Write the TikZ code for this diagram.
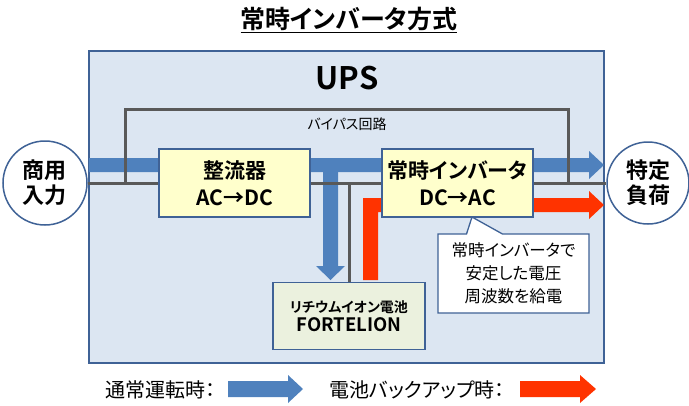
\documentclass[tikz,border=0pt]{standalone}
\usepackage{fontspec}
\setmainfont{Noto Sans CJK JP}[RawFeature=+palt,BoldFont={Noto Sans CJK JP Bold}]
\usetikzlibrary{shapes.callouts}
\definecolor{upsfill}{HTML}{DCE6F2}
\definecolor{navy}{HTML}{3F6296}
\definecolor{flowblue}{HTML}{4F81BD}
\definecolor{flowred}{HTML}{FF3300}
\definecolor{wire}{HTML}{595959}
\definecolor{boxyellow}{HTML}{FFFFCC}
\definecolor{boxgreen}{HTML}{EBF1DE}
\begin{document}
\begin{tikzpicture}[x=1pt,y=-1pt,
  unitbox/.style={draw=navy,line width=1.5pt,fill=boxyellow,align=center,inner sep=0pt,
    minimum width=151pt,minimum height=68pt,font=\bfseries\fontsize{21}{27}\selectfont},
  terminal/.style={circle,draw=navy,line width=1.5pt,fill=white,inner sep=0pt,align=center,
    font=\bfseries\fontsize{22}{25}\selectfont},
  wireline/.style={wire,line width=3pt},
  blueflow/.style={fill=flowblue},
  redflow/.style={fill=flowred},
  legendtext/.style={font=\fontsize{20}{22}\selectfont,inner sep=0pt}]
\useasboundingbox (0,0) rectangle (689,405);

% title
\node[font=\bfseries\fontsize{25}{28}\selectfont,anchor=base,inner sep=0pt] (title) at (349,28) {\underline{常時インバータ方式}};

% UPS enclosure
\node[draw=navy,line width=1.5pt,fill=upsfill,minimum width=515pt,minimum height=312pt,inner sep=0pt] (ups) at (346.5,207) {};
\node[font=\bfseries\fontsize{31}{32}\selectfont,inner sep=0pt] (upslabel) at (347,78) {UPS};

% terminals
\node[terminal,minimum size=84pt] (lc) at (45,183) {商用\\入力};
\node[terminal,minimum size=82pt] (rc) at (648,183) {特定\\負荷};

% normal-operation flow (blue)
\fill[blueflow] (89,158) -- (589,158) -- (589,151) -- (604,165) -- (589,179) -- (589,172) -- (89,172) -- cycle;
\fill[blueflow] (323,165) -- (338,165) -- (338,266) -- (345,266) -- (330.5,280) -- (316,266) -- (323,266) -- cycle;

% battery backup flow (red)
\fill[redflow] (363,280) -- (363,198) -- (589,198) -- (589,191) -- (604,205) -- (589,219) -- (589,212) -- (378,212) -- (378,280) -- cycle;

% wires
\coordinate (bpL) at (125,183);
\coordinate (bpR) at (568,183);
\coordinate (batW) at (349,183);
\coordinate (batWend) at (349,282);
\draw[wireline] (lc.east) -- (rc.west);
\draw[wireline,line join=miter] (bpL) |- (568,109) -- (bpR);
\draw[wireline] (batW) -- (batWend);
\node[font=\fontsize{14}{15}\selectfont,inner sep=0pt] (bypass) at (347,124) {バイパス回路};

% units
\node[unitbox] (rect) at (234.5,183) {整流器\\AC→DC};
\node[unitbox] (inv) at (457.5,183) {常時インバータ\\DC→AC};
\node[draw=navy,line width=1.5pt,fill=boxgreen,minimum width=152pt,minimum height=67pt,inner sep=0pt,align=center] (bat) at (349,316)
  {{\bfseries\fontsize{14}{16}\selectfont リチウムイオン電池}\\[3pt]{\bfseries\fontsize{18.5}{20}\selectfont FORTELION}};

% callout
\node[rectangle callout,draw=navy,line width=1.3pt,fill=white,minimum width=151pt,minimum height=79pt,inner sep=0pt,
  callout absolute pointer={(472,217)},callout pointer width=36pt,align=center,font=\fontsize{16.5}{23}\selectfont]
  (note) at (513.5,273.5) {常時インバータで\\安定した電圧\\周波数を給電};

% legend
\node[legendtext] (lgnormal) at (160,390) {通常運転時：};
\fill[blueflow] (228,381) -- (288,381) -- (288,375) -- (303,389) -- (288,403) -- (288,397) -- (228,397) -- cycle;
\node[legendtext] (lgbackup) at (417,390) {電池バックアップ時：};
\fill[redflow] (520,381) -- (580,381) -- (580,375) -- (596,389) -- (580,403) -- (580,397) -- (520,397) -- cycle;
\end{tikzpicture}
\end{document}
